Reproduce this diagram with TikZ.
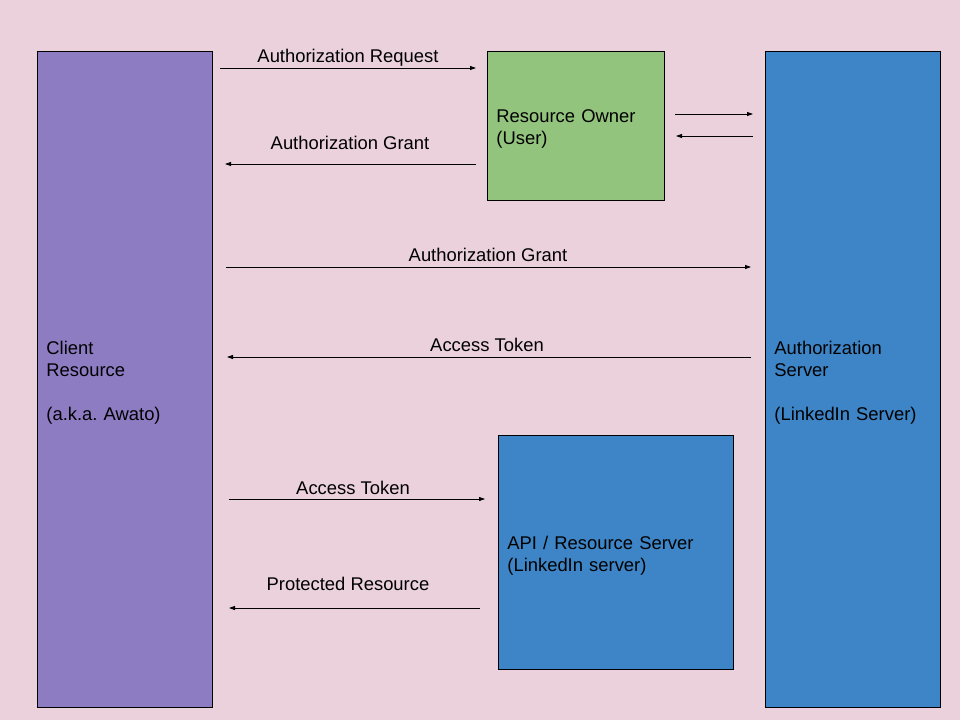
\documentclass[tikz,border=0pt]{standalone}
\usepackage{fontspec}
\setmainfont{Liberation Sans}
\usetikzlibrary{arrows.meta}
\definecolor{bgpink}{HTML}{EAD1DC}
\definecolor{clientpurple}{HTML}{8E7CC3}
\definecolor{ownergreen}{HTML}{93C47D}
\definecolor{serverblue}{HTML}{3D85C6}
\frenchspacing
\newcommand{\topgap}{\rule{0pt}{19pt}}
\begin{document}
\begin{tikzpicture}[x=1pt,y=-1pt,
  lbl/.style={font=\fontsize{18.4}{22}\selectfont, inner sep=0pt, anchor=base},
  box/.style={draw=black, line width=0.8pt, font=\fontsize{18.4}{22}\selectfont,
    align=left, inner xsep=9pt, inner ysep=0pt, anchor=north west},
  msg/.style={draw=black, line width=0.8pt, -{Triangle[length=6pt,width=4pt]}}]
\fill[bgpink] (0,0) rectangle (960,720);
\useasboundingbox (0,0) rectangle (960,720);

\node[box, fill=clientpurple, minimum width=175pt, minimum height=656pt, text width=157pt]
  (client) at (37,51) {\topgap Client\\Resource\\\mbox{}\\(a.k.a. Awato)};
\node[box, fill=serverblue, minimum width=175pt, minimum height=656pt, text width=157pt]
  (authsrv) at (765,51) {\topgap Authorization\\Server\\\mbox{}\\(LinkedIn Server)};
\node[box, fill=ownergreen, minimum width=177pt, minimum height=149pt, text width=159pt]
  (owner) at (487,51) {\topgap Resource Owner\\(User)};
\node[box, fill=serverblue, minimum width=235pt, minimum height=234pt, text width=217pt]
  (api) at (498,435) {\topgap API / Resource Server\\(LinkedIn server)};

% connector end points
\coordinate (a1s) at (220,68);  \coordinate (a1e) at (476,68);
\coordinate (a2s) at (476,164); \coordinate (a2e) at (225,164);
\coordinate (a3s) at (675,114); \coordinate (a3e) at (753,114);
\coordinate (a4s) at (753,136); \coordinate (a4e) at (676,136);
\coordinate (a5s) at (226,267); \coordinate (a5e) at (751,267);
\coordinate (a6s) at (751,357); \coordinate (a6e) at (227,357);
\coordinate (a7s) at (229,499); \coordinate (a7e) at (485,499);
\coordinate (a8s) at (480,608); \coordinate (a8e) at (229,608);

\draw[msg] (a1s) -- (a1e);
\draw[msg] (a2s) -- (a2e);
\draw[msg] (a3s) -- (a3e);
\draw[msg] (a4s) -- (a4e);
\draw[msg] (a5s) -- (a5e);
\draw[msg] (a6s) -- (a6e);
\draw[msg] (a7s) -- (a7e);
\draw[msg] (a8s) -- (a8e);

\node[lbl] (l1) at (348,62) {Authorization Request};
\node[lbl] (l2) at (350,149) {Authorization Grant};
\node[lbl] (l5) at (488,261) {Authorization Grant};
\node[lbl] (l6) at (487,351) {Access Token};
\node[lbl] (l7) at (353,494) {Access Token};
\node[lbl] (l8) at (348,590) {Protected Resource};
\end{tikzpicture}
\end{document}
